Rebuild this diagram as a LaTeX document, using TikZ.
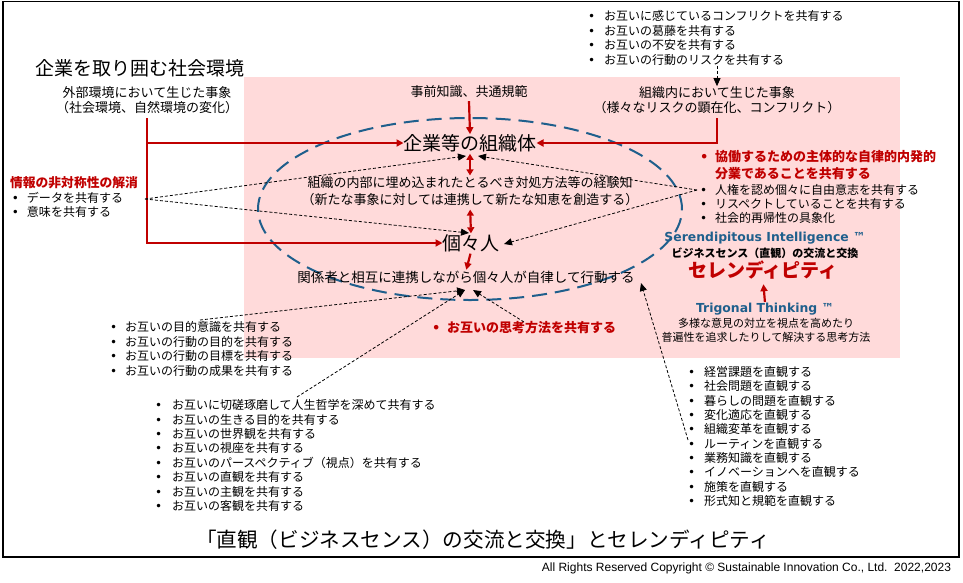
\documentclass[tikz,border=0pt]{standalone}
\usepackage{fontspec}
\setmainfont{Noto Sans CJK JP}
\newfontfamily\latf{Liberation Sans}
\newfontfamily\dejaf{DejaVu Sans}
\usetikzlibrary{arrows.meta,calc}
\definecolor{myred}{RGB}{192,0,0}
\definecolor{mypink}{RGB}{255,218,218}
\definecolor{myblue}{RGB}{31,95,140}
\newcommand{\fsz}[2]{\fontsize{#1}{#2}\selectfont}
\newcommand{\bu}[1][15pt]{\makebox[#1][l]{\dejaf •}}
\begin{document}
\begin{tikzpicture}[x=1pt,y=-1pt,
  every node/.style={inner sep=0pt,outer sep=0pt},
  redl/.style={draw=myred,line width=2.2pt},
  redarr/.style={redl,-{Triangle[length=7pt,width=7pt]}},
  reddbl/.style={redl,{Triangle[length=6pt,width=7pt]}-{Triangle[length=6pt,width=7pt]}},
  dasharr/.style={draw=black,line width=0.8pt,dash pattern=on 3pt off 2pt,-{Triangle[length=8pt,width=7pt]}},
  ellstyle/.style={draw=myblue,line width=2pt,dash pattern=on 15pt off 8pt},
  lst/.style={anchor=west,align=left,font=\fsz{12}{14.5}}
  ]
\useasboundingbox (0,0) rectangle (963,582);
% background
\fill[mypink] (244,77) rectangle (900,358);
\draw[line width=1.5pt] (3,1.5) rectangle (959,557);
\draw[ellstyle] (470,209) ellipse [x radius=212pt, y radius=91pt];

% nodes
\node[font=\fsz{19}{22}] (env) at (140,68) {企業を取り囲む社会環境};
\node[font=\fsz{13}{15.5},align=center] (ext) at (147,100) {外部環境において生じた事象\\（社会環境、自然環境の変化）};
\node[font=\fsz{13}{15}] (pre) at (469,92) {事前知識、共通規範};
\node[font=\fsz{19}{22}] (org) at (470,143) {企業等の組織体};
\node[font=\fsz{13}{15.5},align=center] (inner) at (717,100) {組織内において生じた事象\\（様々なリスクの顕在化、コンフリクト）};
\node[font=\fsz{13}{17},align=center] (know) at (470,191) {組織の内部に埋め込まれたとるべき対処方法等の経験知\\（新たな事象に対しては連携して新たな知恵を創造する）};
\node[font=\fsz{19}{22}] (ind) at (471,243) {個々人};
\node[font=\fsz{13.5}{16}] (act) at (466,277) {関係者と相互に連携しながら個々人が自律して行動する};

\node[lst,font=\fsz{12}{14.7}] (tlist) at (588,38) {\bu[16pt]お互いに感じているコンフリクトを共有する\\\bu[16pt]お互いの葛藤を共有する\\\bu[16pt]お互いの不安を共有する\\\bu[16pt]お互いの行動のリスクを共有する};

\node[anchor=west,font=\bfseries\fsz{12.8}{15},text=myred] (info) at (10,183) {情報の非対称性の解消};
\node[lst,font=\fsz{12}{14}] (ilist) at (12,205) {\bu データを共有する\\\bu 意味を共有する};

\node[anchor=west,align=left,font=\bfseries\fsz{13}{17},text=myred] (coop) at (700,165.5) {\bu 協働するための主体的な自律的内発的\\\hspace*{15pt}分業であることを共有する};
\node[lst,font=\fsz{12}{14}] (rlist) at (700,204) {\bu 人権を認め個々に自由意志を共有する\\\bu リスペクトしていることを共有する\\\bu 社会的再帰性の具象化};

\node[font=\dejaf\bfseries\fsz{12.4}{14},text=myblue] (seri) at (765,238) {Serendipitous Intelligence ™};
\node[font=\bfseries\fsz{11}{13}] (bsense) at (765,253) {ビジネスセンス（直観）の交流と交換};
\node[font=\bfseries\fsz{19}{22},text=myred] (sel) at (763,270) {セレンディピティ};
\node[font=\dejaf\bfseries\fsz{12.4}{14},text=myblue] (trig) at (765,309) {Trigonal Thinking ™};
\node[font=\fsz{11}{14},align=center] (tdesc) at (766,330) {多様な意見の対立を視点を高めたり\\普遍性を追求したりして解決する思考方法};

\node[anchor=west,font=\bfseries\fsz{13}{15},text=myred] (think) at (432,328) {\bu お互いの思考方法を共有する};

\node[lst,font=\fsz{12}{14.6}] (mlist) at (110,349) {\bu お互いの目的意識を共有する\\\bu お互いの行動の目的を共有する\\\bu お互いの行動の目標を共有する\\\bu お互いの行動の成果を共有する};

\node[lst,font=\fsz{12}{14.43}] (blist) at (155,455.5) {\bu[17pt]お互いに切磋琢磨して人生哲学を深めて共有する\\\bu[17pt]お互いの生きる目的を共有する\\\bu[17pt]お互いの世界観を共有する\\\bu[17pt]お互いの視座を共有する\\\bu[17pt]お互いのパースペクティブ（視点）を共有する\\\bu[17pt]お互いの直観を共有する\\\bu[17pt]お互いの主観を共有する\\\bu[17pt]お互いの客観を共有する};

\node[lst,font=\fsz{12}{14.33}] (rblist) at (688,436.5) {\bu[16pt]経営課題を直観する\\\bu[16pt]社会問題を直観する\\\bu[16pt]暮らしの問題を直観する\\\bu[16pt]変化適応を直観する\\\bu[16pt]組織変革を直観する\\\bu[16pt]ルーティンを直観する\\\bu[16pt]業務知識を直観する\\\bu[16pt]イノベーションへを直観する\\\bu[16pt]施策を直観する\\\bu[16pt]形式知と規範を直観する};

\node[font=\fsz{20.6}{24}] (title) at (483,540) {「直観（ビジネスセンス）の交流と交換」とセレンディピティ};
\node[anchor=east,font=\latf\fsz{12}{14}] (copy) at (951,568) {All Rights Reserved Copyright © Sustainable Innovation Co., Ltd.\ \ 2022,2023};

% coordinates
\coordinate (extb) at (147,118);
\coordinate (innb) at (717,118);
\coordinate (lsrc) at (145,199);
\coordinate (rsrc) at (697,190);
\coordinate (orgL) at (466,156);
\coordinate (orgR) at (478,156);
\coordinate (indL) at (469,233);
\coordinate (indR) at (504,244);
\coordinate (actL) at (465,290);
\coordinate (actR) at (473,290);
\coordinate (actF) at (641,283);
\coordinate (msrc) at (200,320);
\coordinate (bsrc) at (297,397);
\coordinate (tsrc) at (524,322);
\coordinate (rbsrc) at (688,440);

% red connectors
\draw[redarr] (extb) |- (ind.west);
\draw[redarr] (extb |- org.west) -- (org.west);
\draw[redarr] ($(pre.south)+(0,3)$) -- (org.north);
\draw[redarr] (innb) |- (org.east);
\draw[reddbl,shorten <=2pt,shorten >=1pt] (org.south) -- (know.north);
\draw[reddbl,shorten <=4pt,shorten >=1pt] (know.south) -- (ind.north);
\draw[redarr,shorten <=2pt,shorten >=1pt] (ind.south) -- (act.north);
\draw[redarr,shorten <=1pt,shorten >=5pt] (trig.north) -- (sel.south);

% dashed connectors
\draw[dasharr] (lsrc) -- (orgL);
\draw[dasharr] (lsrc) -- (indL);
\draw[dasharr] (rsrc) -- (orgR);
\draw[dasharr] (rsrc) -- (indR);
\draw[dasharr] (inner.north |- tlist.south) -- (inner.north);
\draw[dasharr] (msrc) -- (actL);
\draw[dasharr] (bsrc) -- (actL);
\draw[dasharr] (tsrc) -- (actR);
\draw[dasharr] (rbsrc) -- (actF);
\end{tikzpicture}
\end{document}
